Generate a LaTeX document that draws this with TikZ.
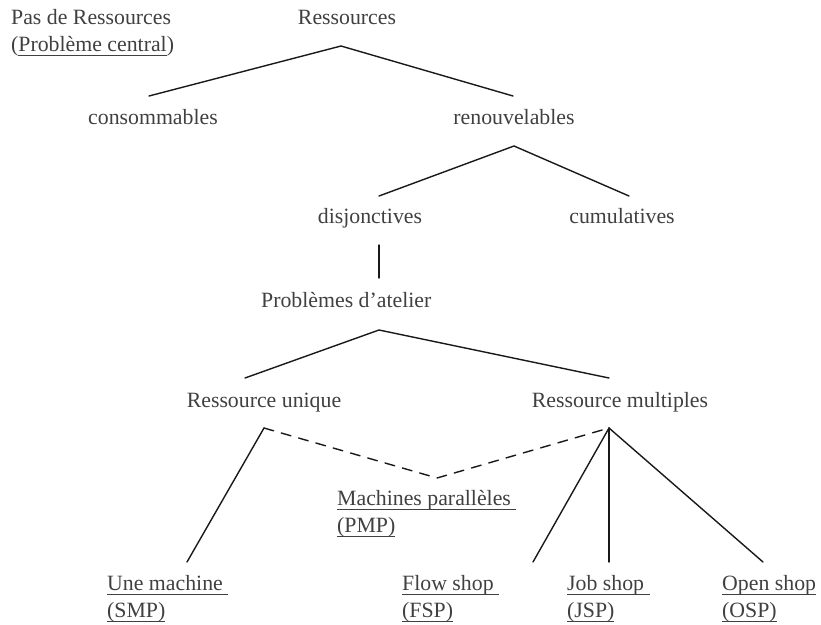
\documentclass[tikz,border=0pt]{standalone}
\usepackage{fontspec}
\setmainfont{Liberation Serif}
\definecolor{txt}{RGB}{64,64,64}
\definecolor{ln}{RGB}{25,25,25}
% underline at a fixed depth below the baseline, as a word processor draws it
\newcommand\ulbox[1]{\setbox0\hbox{#1}\rlap{\rule[-4.5pt]{\wd0}{1pt}}\box0}
\begin{document}
\begin{tikzpicture}[x=1pt,y=-1pt,
  lbl/.style={font=\fontsize{21.8}{26}\selectfont, text=txt, inner sep=0pt},
  branch/.style={draw=ln, line width=1.4pt, line cap=round},
  alt/.style={branch, dash pattern=on 10pt off 8pt}]
\useasboundingbox (0,0) rectangle (821,624);

% labels
\node[lbl, anchor=base west] (pas) at (11,24) {Pas de Ressources};
\node[lbl, anchor=base west] (central) at (11,51) {(\ulbox{Problème central})};
\node[lbl, anchor=base] (res) at (347,24) {Ressources};
\node[lbl, anchor=base] (cons) at (153,124) {consommables};
\node[lbl, anchor=base] (renouv) at (514,124) {renouvelables};
\node[lbl, anchor=base] (disj) at (370,223) {disjonctives};
\node[lbl, anchor=base] (cumul) at (622,223) {cumulatives};
\node[lbl, anchor=base west] (atelier) at (261,307) {Problèmes d’atelier};
\node[lbl, anchor=base] (unique) at (264,407) {Ressource unique};
\node[lbl, anchor=base] (mult) at (620,407) {Ressource multiples};
\node[lbl, anchor=base west] (pmp) at (337,505) {\ulbox{Machines parallèles\ }};
\node[lbl, anchor=base west] (pmpb) at (337,532) {\ulbox{(PMP)}};
\node[lbl, anchor=base west] (smp) at (107,590) {\ulbox{Une machine\ }};
\node[lbl, anchor=base west] (smpb) at (107,617) {\ulbox{(SMP)}};
\node[lbl, anchor=base west] (fsp) at (402,590) {\ulbox{Flow shop\ }};
\node[lbl, anchor=base west] (fspb) at (402,617) {\ulbox{(FSP)}};
\node[lbl, anchor=base west] (jsp) at (567,590) {\ulbox{Job shop\ }};
\node[lbl, anchor=base west] (jspb) at (567,617) {\ulbox{(JSP)}};
\node[lbl, anchor=base west] (osp) at (722,590) {\ulbox{Open shop}};
\node[lbl, anchor=base west] (ospb) at (722,617) {\ulbox{(OSP)}};

% branching points
\coordinate (res-b) at (341,46);
\coordinate (cons-t) at (149,96);
\coordinate (renouv-t) at (513,96);
\coordinate (renouv-b) at (514,146);
\coordinate (disj-t) at (379,196);
\coordinate (cumul-t) at (629,196);
\coordinate (disj-b) at (379,245);
\coordinate (atelier-t) at (379,278);
\coordinate (atelier-b) at (379,330);
\coordinate (unique-t) at (245,378);
\coordinate (mult-t) at (609,378);
\coordinate (unique-b) at (264,428);
\coordinate (mult-b) at (609,428);
\coordinate (pmp-t) at (437,478);
\coordinate (smp-t) at (187,562);
\coordinate (fsp-t) at (533,562);
\coordinate (jsp-t) at (609,562);
\coordinate (osp-t) at (763,562);

% tree
\draw[branch] (cons-t) -- (res-b) -- (renouv-t);
\draw[branch] (disj-t) -- (renouv-b) -- (cumul-t);
\draw[branch] (disj-b) -- (atelier-t);
\draw[branch] (unique-t) -- (atelier-b) -- (mult-t);
\draw[alt] (unique-b) -- (pmp-t) -- (mult-b);
\draw[branch] (unique-b) -- (smp-t);
\draw[branch] (mult-b) -- (fsp-t);
\draw[branch] (mult-b) -- (jsp-t);
\draw[branch] (mult-b) -- (osp-t);
\end{tikzpicture}
\end{document}
